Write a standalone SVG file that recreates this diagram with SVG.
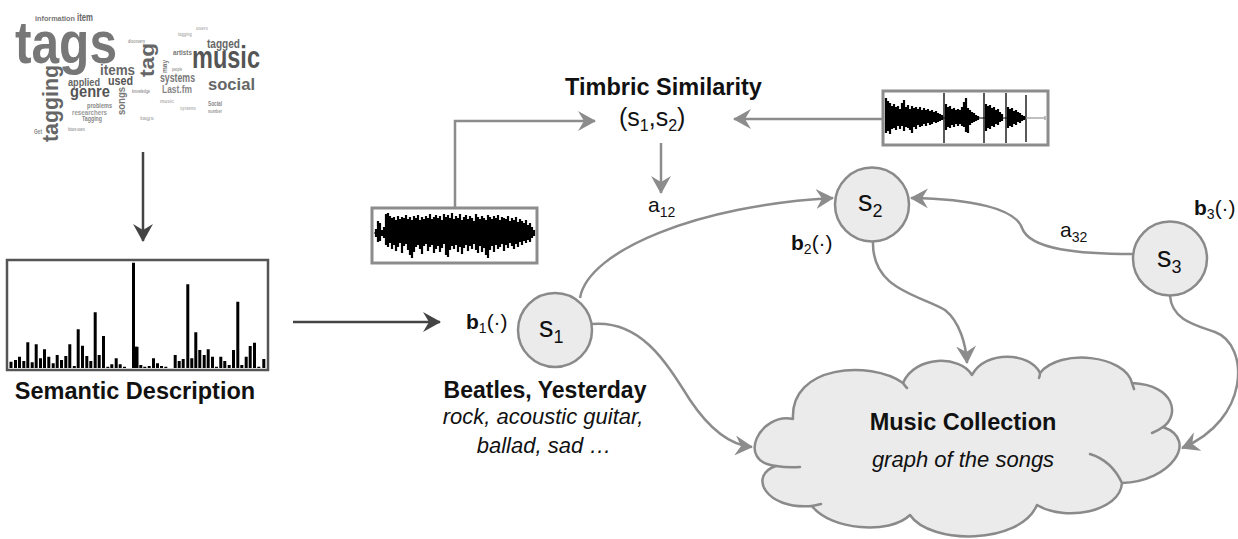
<svg xmlns="http://www.w3.org/2000/svg" width="1238" height="539" viewBox="0 0 1238 539">
<style>
text{font-family:"Liberation Sans",Arial,Helvetica,sans-serif;fill:#111}
.b{font-weight:bold}
.i{font-style:italic}
.wc{font-family:"Liberation Sans Narrow","Liberation Sans",Arial,sans-serif;font-weight:bold}
.c5{fill:#555}.c6{fill:#666}.c7{fill:#777}.c8{fill:#888}.c9{fill:#9a9a9a}.ca{fill:#b5b5b5}
.con{fill:none;stroke:#8c8c8c;stroke-width:2.5;marker-end:url(#ag)}
.dark{fill:none;stroke:#444;stroke-width:2.5;marker-end:url(#ad)}
.node{fill:#ebebeb;stroke:#8a8a8a;stroke-width:2.5}
.wbox{fill:#fff;stroke:#8c8c8c;stroke-width:3}
.wave{fill:none;stroke:#000;stroke-width:2.2}
.lbl{font-size:21px}
.sub{font-size:14px}
</style>
<defs>
<marker id="ag" markerUnits="userSpaceOnUse" markerWidth="18" markerHeight="20" refX="17" refY="10" orient="auto"><path d="M0,0 L18,10 L0,20 L6,10 Z" fill="#8c8c8c"/></marker>
<marker id="ad" markerUnits="userSpaceOnUse" markerWidth="18" markerHeight="20" refX="17" refY="10" orient="auto"><path d="M0,0 L18,10 L0,20 L6,10 Z" fill="#444"/></marker>
</defs>
<rect width="1238" height="539" fill="#fff"/>

<g id="wordcloud">
<text class="wc c7" x="15" y="63" font-size="60" textLength="102" lengthAdjust="spacingAndGlyphs">tags</text>
<text class="wc c5" x="192" y="68" font-size="31" textLength="68" lengthAdjust="spacingAndGlyphs">music</text>
<text class="wc c6" transform="translate(58,142) rotate(-90)" font-size="22" textLength="77" lengthAdjust="spacingAndGlyphs">tagging</text>
<text class="wc c6" transform="translate(154,77) rotate(-90)" font-size="21" textLength="34" lengthAdjust="spacingAndGlyphs">tag</text>
<text class="wc c6" x="100" y="75" font-size="14" textLength="35" lengthAdjust="spacingAndGlyphs">items</text>
<text class="wc c6" x="68" y="86" font-size="11" textLength="32" lengthAdjust="spacingAndGlyphs">applied</text>
<text class="wc c5" x="108" y="85" font-size="13" textLength="25" lengthAdjust="spacingAndGlyphs">used</text>
<text class="wc c5" x="70" y="97" font-size="16" textLength="40" lengthAdjust="spacingAndGlyphs">genre</text>
<text class="wc c7" x="160" y="82" font-size="12" textLength="35" lengthAdjust="spacingAndGlyphs">systems</text>
<text class="wc c6" x="208" y="90" font-size="17" textLength="47" lengthAdjust="spacingAndGlyphs">social</text>
<text class="wc c8" x="162" y="93" font-size="11" textLength="30" lengthAdjust="spacingAndGlyphs">Last.fm</text>
<text class="wc c6" x="207" y="48" font-size="13" textLength="33" lengthAdjust="spacingAndGlyphs">tagged</text>
<text class="wc c7" x="173" y="55" font-size="7" textLength="19" lengthAdjust="spacingAndGlyphs">artists</text>
<text class="wc c7" x="35" y="21" font-size="8" textLength="40" lengthAdjust="spacingAndGlyphs">information</text>
<text class="wc c6" x="77" y="21" font-size="10" textLength="16" lengthAdjust="spacingAndGlyphs">item</text>
<text class="wc c7" transform="translate(125,115) rotate(-90)" font-size="10" textLength="28" lengthAdjust="spacingAndGlyphs">songs</text>
<text class="wc c7" transform="translate(167,73) rotate(-90)" font-size="8" textLength="13" lengthAdjust="spacingAndGlyphs">may</text>
<text class="wc c8" x="208" y="106" font-size="7" textLength="14" lengthAdjust="spacingAndGlyphs">Social</text>
<text class="wc c8" x="87" y="108" font-size="7" textLength="25" lengthAdjust="spacingAndGlyphs">problems</text>
<text class="wc c9" x="72" y="115" font-size="7" textLength="35" lengthAdjust="spacingAndGlyphs">researchers</text>
<text class="wc c8" x="82" y="121" font-size="7" textLength="20" lengthAdjust="spacingAndGlyphs">Tagging</text>
<text class="wc c9" x="132" y="93" font-size="5" textLength="18" lengthAdjust="spacingAndGlyphs">knowledge</text>
<text class="wc c9" x="128" y="43" font-size="5" textLength="17" lengthAdjust="spacingAndGlyphs">discovery</text>
<text class="wc c9" x="68" y="131" font-size="5" textLength="17" lengthAdjust="spacingAndGlyphs">future users</text>
<text class="wc c8" x="34" y="134" font-size="7" textLength="8" lengthAdjust="spacingAndGlyphs">Get</text>
<text class="wc c9" x="208" y="113" font-size="6" textLength="14" lengthAdjust="spacingAndGlyphs">number</text>
<text class="wc c9" x="172" y="71" font-size="5" textLength="10" lengthAdjust="spacingAndGlyphs">people</text>
<text class="wc ca" x="178" y="36" font-size="5" textLength="14" lengthAdjust="spacingAndGlyphs">tagging</text>
<text class="wc ca" x="196" y="30" font-size="5" textLength="12" lengthAdjust="spacingAndGlyphs">users</text>
<text class="wc ca" x="160" y="103" font-size="5" textLength="14" lengthAdjust="spacingAndGlyphs">music</text>
<text class="wc ca" x="180" y="110" font-size="5" textLength="16" lengthAdjust="spacingAndGlyphs">systems</text>
<text class="wc ca" x="140" y="120" font-size="5" textLength="14" lengthAdjust="spacingAndGlyphs">tags</text>
</g>

<g id="histogram">
<rect x="7" y="260" width="261" height="110" fill="#fff" stroke="#555" stroke-width="2.5"/>
<path stroke="#000" stroke-width="3" fill="none" d="M11,368V361.7 M15.5,368V360 M19.5,368V356.7 M23.8,368V361 M27.8,368V342.3 M32.2,368V362.3 M36.2,368V344.3 M40.5,368V358.3 M44.5,368V349.3 M48.8,368V356.7 M53.2,368V363.3 M57.2,368V355 M61.5,368V360 M65.8,368V356 M69.8,368V344.3 M74.3,368V366 M78.2,368V329.3 M82.5,368V345.7 M86.8,368V356 M90.8,368V361 M95.2,368V312.3 M99.2,368V355 M103.5,368V336 M107.8,368V366.7 M111.8,368V364.3 M116.2,368V358.3 M120.2,368V364.3 M124.5,368V366.7 M133.5,368V262.7 M137,368V346.7 M140.8,368V365 M144.8,368V366.7 M149.2,368V366 M153.5,368V358.3 M157.5,368V363.3 M161.5,368V366 M165.8,368V366.7 M175.2,368V355 M179.2,368V361 M183.2,368V359 M187.8,368V284.3 M191.8,368V358.3 M195.8,368V332.3 M199.8,368V350 M204.2,368V355 M208.2,368V349.3 M212.5,368V356.7 M216.5,368V366.7 M220.8,368V356.7 M224.8,368V361 M229.2,368V365 M233.5,368V350 M237.8,368V301.7 M241.8,368V365 M246.2,368V356.7 M250.2,368V346 M254.5,368V342.7 M258.8,368V366.7 M263.8,368V359"/>
<path stroke="#000" stroke-width="2" d="M134,368V346.7 M136,368V346.7"/>
</g>
<g id="semantic-label">
<text class="b" x="135" y="399" font-size="23.5" text-anchor="middle">Semantic Description</text>
</g>

<g id="waveform1">
<rect class="wbox" x="372" y="208" width="165" height="55"/>
<path class="wave" d="M376,229V237M378,221V242M380,223V241M382,230V236M384,227V238M386,214V245M388,213V247M390,216V243M392,218V249M394,217V245M396,220V251M398,216V247M400,219V243M402,217V253M404,218V246M406,215V244M408,219V250M410,217V255M412,220V258M414,216V252M416,218V247M418,215V245M420,220V249M422,217V254M424,219V246M426,216V244M428,218V251M430,214V247M432,219V245M434,217V253M436,215V249M438,218V246M440,216V252M442,220V248M444,214V244M446,217V255M448,215V257M450,218V250M452,213V246M454,219V249M456,216V245M458,218V252M460,214V247M462,220V254M464,217V248M466,215V245M468,219V251M470,216V246M472,218V249M474,221V244M476,214V250M478,217V253M480,219V246M482,216V252M484,218V248M486,220V255M488,215V258M490,217V250M492,219V246M494,216V252M496,218V245M498,215V249M500,220V247M502,217V244M504,218V251M506,219V245M508,216V248M510,221V243M512,218V246M514,220V249M516,217V244M518,222V247M520,219V242M522,221V245M524,223V241M526,220V243M528,225V240M530,223V242M532,227V238M534,230V236"/>
<path d="M374,233H535" stroke="#000" stroke-width="1"/>
</g>

<g id="waveform2">
<rect class="wbox" x="883" y="91" width="165" height="54"/>
<path class="wave" d="M886,98V133M888,101V131M890,103V134M892,106V129M894,104V128M896,107V130M898,106V126M900,109V129M902,103V126M904,100V131M906,107V127M908,105V128M910,109V130M912,106V133M914,108V127M916,107V129M918,109V125M920,107V127M922,110V126M924,108V124M926,110V126M928,109V123M930,111V125M932,110V124M934,112V122M936,111V123M938,113V122M940,114V121M942,115V120M946,104V130M948,107V127M950,106V128M952,109V125M954,108V127M956,110V124M958,109V126M960,110V124M962,107V126M964,102V127M966,98V132M968,108V133M970,110V125M972,112V123M974,113V122M976,115V121M978,116V120M986,104V131M988,106V128M990,105V129M992,108V126M994,107V127M996,110V124M998,109V125M1000,112V122M1002,114V121M1008,107V128M1010,109V126M1012,108V127M1014,111V124M1016,110V125M1018,112V122M1020,113V123M1022,115V121M1024,116V120"/>
<path d="M944,93V143M984,93V143M1006,93V143M1026,95V142" stroke="#000" stroke-width="1.3"/>
<path d="M886,118H1026" stroke="#000" stroke-width="1"/>
<path d="M1026,118H1045M1045,116V120" stroke="#aaa" stroke-width="1.5"/>
</g>

<g id="timbric">
<text class="b" x="663.5" y="95" font-size="23.5" text-anchor="middle">Timbric Similarity</text>
<text x="619" y="126" font-size="25">(s<tspan font-size="16" dy="5">1</tspan><tspan dy="-5">,s</tspan><tspan font-size="16" dy="5">2</tspan><tspan dy="-5">)</tspan></text>
</g>

<g id="connectors">
<path class="dark" d="M143,152V241"/>
<path class="dark" d="M293,322H440"/>
<path class="con" d="M455,208V121H595"/>
<path class="con" d="M883,119H734"/>
<path class="con" d="M661,143V193"/>
<path class="con" d="M580,298C588,250 700,205 833,198"/>
<path class="con" d="M1133,254C1080,254 1030,250 1022,228C1015,208 970,199 911,198"/>
<path class="con" d="M873,242C872,290 920,295 945,310C960,322 966,345 967,363"/>
<path class="con" d="M1170,296C1172,320 1195,325 1215,332C1250,345 1250,420 1182,448"/>
<path class="con" d="M592,324C640,320 665,360 690,400C710,430 730,445 752,447"/>
<text x="648" y="212" class="lbl">a<tspan class="sub" dy="5">12</tspan></text>
<text x="1060" y="237" class="lbl">a<tspan class="sub" dy="5">32</tspan></text>
</g>

<g id="node-s1">
<circle class="node" cx="555" cy="330" r="37"/>
<text x="539" y="337" font-size="29">s<tspan font-size="18" dy="6">1</tspan></text>
<text x="466" y="329" class="lbl"><tspan class="b">b</tspan><tspan class="sub" dy="4">1</tspan><tspan dy="-4">(·)</tspan></text>
<text class="b" x="545" y="398" font-size="23" text-anchor="middle">Beatles, Yesterday</text>
<text class="i" x="543" y="424" font-size="22" text-anchor="middle">rock, acoustic guitar,</text>
<text class="i" x="544" y="453" font-size="22" text-anchor="middle">ballad, sad …</text>
</g>

<g id="node-s2">
<circle class="node" cx="872" cy="204.5" r="37"/>
<text x="858" y="211" font-size="29">s<tspan font-size="18" dy="6">2</tspan></text>
<text x="791" y="250" class="lbl"><tspan class="b">b</tspan><tspan class="sub" dy="4">2</tspan><tspan dy="-4">(·)</tspan></text>
</g>

<g id="node-s3">
<circle class="node" cx="1170" cy="258.5" r="37"/>
<text x="1157" y="267" font-size="29">s<tspan font-size="18" dy="6">3</tspan></text>
<text x="1194" y="215" class="lbl"><tspan class="b">b</tspan><tspan class="sub" dy="4">3</tspan><tspan dy="-4">(·)</tspan></text>
</g>

<g id="cloud">
<path fill="#ebebeb" stroke="#8a8a8a" stroke-width="2.5" stroke-linejoin="round" d="M793,419C760,412 735,462 776,466C748,475 765,510 812,506C830,530 890,535 910,515C930,545 1020,545 1037,505C1065,522 1120,512 1122,483C1170,482 1200,440 1163,427C1180,415 1175,385 1132,383C1125,355 1060,348 1040,373C1030,352 985,350 972,375C960,355 915,355 903,383C870,360 790,365 793,419Z"/>
<path fill="none" stroke="#8a8a8a" stroke-width="2.5" stroke-linecap="round" d="M776,466Q788,468 800,467M812,506Q817,505 821,504M1122,483C1115,468 1103,458 1090,454M1163,427Q1159,430 1152,433M903,383Q905,386 907,388M1040,373Q1040,376 1039,378M1132,383Q1133,386 1134,389"/>
<text class="b" x="963" y="430" font-size="23.5" text-anchor="middle">Music Collection</text>
<text class="i" x="963" y="467" font-size="22" text-anchor="middle">graph of the songs</text>
</g>
</svg>
